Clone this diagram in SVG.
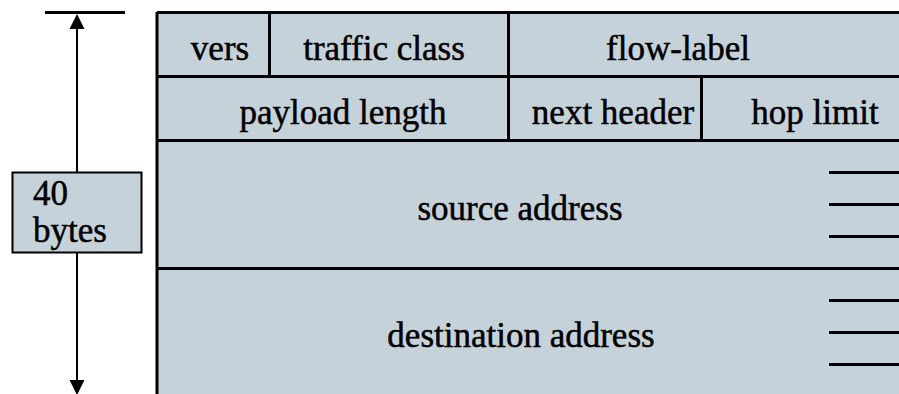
<svg xmlns="http://www.w3.org/2000/svg" width="899" height="394" viewBox="0 0 899 394">
<style>
.cell{fill:#c6d2d9;stroke:none}
.ln{stroke:#000;stroke-width:3;fill:none}
.t{font-family:"Liberation Serif","Times New Roman",serif;font-size:35px;fill:#000;stroke:#000;stroke-width:0.5;text-anchor:middle}
.tl{font-family:"Liberation Serif","Times New Roman",serif;font-size:35px;fill:#000;stroke:#000;stroke-width:0.5}
</style>
<rect width="899" height="394" fill="#fff"/>
<g id="header">
<rect class="cell" x="157" y="12" width="750" height="390"/>
<path class="ln" d="M157,12.5 H899 M157,12 V394 M157,76.5 H899 M157,140.5 H899 M157,268.5 H899 M269.5,12 V76 M508.5,12 V140 M701.5,76 V140"/>
</g>
<g id="vers"><text class="t" x="220" y="60">vers</text></g>
<g id="traffic-class"><text class="t" x="384" y="60">traffic class</text></g>
<g id="flow-label"><text class="t" x="678" y="60">flow-label</text></g>
<g id="payload-length"><text class="t" x="343" y="124">payload length</text></g>
<g id="next-header"><text class="t" x="613" y="124">next header</text></g>
<g id="hop-limit"><text class="t" x="815" y="124">hop limit</text></g>
<g id="source-address">
<text class="t" x="520" y="220">source address</text>
<path class="ln" d="M829,172.5 H899 M829,204.5 H899 M829,236.5 H899"/>
</g>
<g id="destination-address">
<text class="t" x="521" y="347">destination address</text>
<path class="ln" d="M829,300.5 H899 M829,332.5 H899 M829,364.5 H899"/>
</g>
<g id="connectors">
<path d="M45,12.5 H125" stroke="#000" stroke-width="3"/>
<path d="M77,26 V382" stroke="#000" stroke-width="2"/>
<polygon points="77,14 69.5,29 84.5,29" fill="#000"/>
<polygon points="77,395 69.5,380 84.5,380" fill="#000"/>
</g>
<g id="size-label">
<rect x="12.5" y="172.5" width="129" height="80" fill="#c6d2d9" stroke="#000" stroke-width="2"/>
<text class="tl" x="33" y="205">40</text>
<text class="tl" x="33" y="242">bytes</text>
</g>
</svg>
